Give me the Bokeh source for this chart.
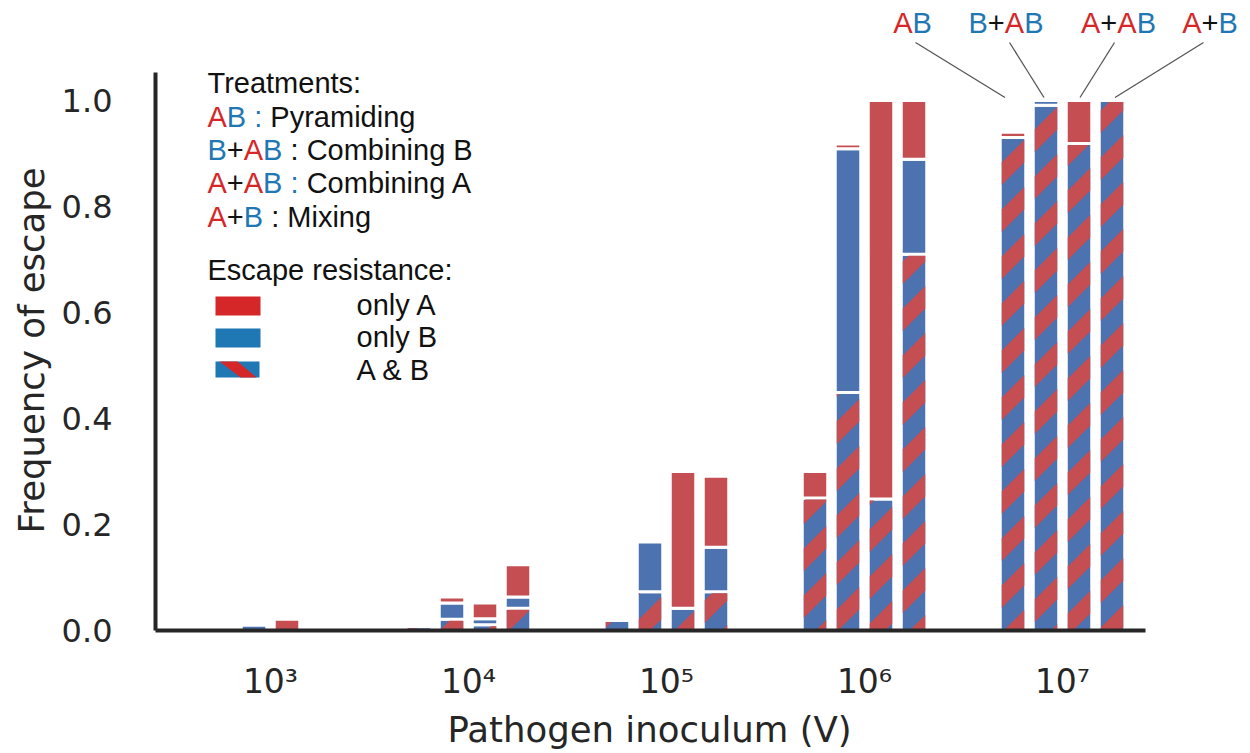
import math
from bokeh.plotting import figure
from bokeh.models import ColumnDataSource, FixedTicker, PrintfTickFormatter, Range1d, Label, Title
from bokeh.embed import file_html
from bokeh.resources import INLINE

# ---------------- data ----------------
inoculum_log10 = [3, 4, 5, 6, 7]
inoculum_labels = ["10³", "10⁴", "10⁵", "10⁶", "10⁷"]
treatments = ["AB", "B+AB", "A+AB", "A+B"]
treatment_desc = ["Pyramiding", "Combining B", "Combining A", "Mixing"]

# frequency of escape per inoculum (10^3 ... 10^7), split by escape type
pyr_AB = [0.0, 0.007, 0.019, 0.250, 0.930]
pyr_onlyB = [0.0, 0.0, 0.0, 0.0, 0.0]
pyr_onlyA = [0.0, 0.0, 0.0, 0.050, 0.010]

combB_AB = [0.0, 0.021, 0.073, 0.449, 0.991]
combB_onlyB = [0.010, 0.031, 0.094, 0.460, 0.009]
combB_onlyA = [0.0, 0.011, 0.0, 0.009, 0.0]

combA_AB = [0.0, 0.011, 0.042, 0.248, 0.919]
combA_onlyB = [0.0, 0.011, 0.0, 0.0, 0.0]
combA_onlyA = [0.021, 0.030, 0.258, 0.752, 0.081]

mix_AB = [0.0, 0.042, 0.073, 0.710, 1.0]
mix_onlyB = [0.0, 0.021, 0.084, 0.179, 0.0]
mix_onlyA = [0.0, 0.061, 0.134, 0.111, 0.0]

y_ticks = [0.0, 0.2, 0.4, 0.6, 0.8, 1.0]

# ---------------- style / layout ----------------
RED_BAR, BLUE_BAR = "#C44E52", "#4C72B0"
RED, BLUE, BLACK = "#d62728", "#1f77b4", "#111111"
AXIS_COL = "#262626"

W, H = 1250, 753
FRAME_L, FRAME_B = 155, 630          # frame spans to the right / top canvas edges
PX_PER_DEC = 198.0                   # horizontal pixels per decade
X_REF_PX, X_REF = 864.0, 6.0         # pixel of decade 6
PX_PER_UNIT = 530.0                  # vertical pixels per unit frequency
X_START = X_REF + (FRAME_L - X_REF_PX) / PX_PER_DEC
X_END = X_REF + (W - X_REF_PX) / PX_PER_DEC
X_AXIS_END = X_REF + (1145 - X_REF_PX) / PX_PER_DEC
Y_START, Y_END = 0.0, FRAME_B / PX_PER_UNIT
Y_AXIS_END = 1.053
LABEL_DY = 11                        # text baseline correction (px)

# stripe pattern (pixels): vertical period, red band height, phase
STRIPE_P, STRIPE_R, STRIPE_PHASE = 47.0, 22.5, 8.3
EDGE_W = 3


def xd(px):
    return X_REF + (px - X_REF_PX) / PX_PER_DEC


def yd(py):
    return (FRAME_B - py) / PX_PER_UNIT


def xpx(x):
    return X_REF_PX + (x - X_REF) * PX_PER_DEC


p = figure(width=W, height=H, output_backend="svg", toolbar_location=None,
           x_range=Range1d(X_START, X_END), y_range=Range1d(Y_START, Y_END),
           min_border_left=FRAME_L, min_border_right=0,
           min_border_top=0, min_border_bottom=H - FRAME_B)
p.outline_line_color = None
p.grid.visible = False
p.background_fill_color = "white"
p.border_fill_color = "white"

# ---------------- bars ----------------
BAR_STEP = 33.0 / PX_PER_DEC
BAR_W = 25.5 / PX_PER_DEC
offsets = [-1.5, -0.5, 0.5, 1.5]
groups = [(pyr_AB, pyr_onlyB, pyr_onlyA),
          (combB_AB, combB_onlyB, combB_onlyA),
          (combA_AB, combA_onlyB, combA_onlyA),
          (mix_AB, mix_onlyB, mix_onlyA)]

src = {k: dict(x=[], bottom=[], top=[]) for k in ("AB", "B", "A")}
for i, (ab, b, a) in enumerate(groups):
    for j, e in enumerate(inoculum_log10):
        x = e + offsets[i] * BAR_STEP
        base = 0.0
        for key, vals in (("AB", ab), ("B", b), ("A", a)):
            h = vals[j]
            if h > 0:
                src[key]["x"].append(x)
                src[key]["bottom"].append(base)
                src[key]["top"].append(base + h)
            base += h

p.vbar(x="x", bottom="bottom", top="top", width=BAR_W, source=ColumnDataSource(src["AB"]),
       fill_color=BLUE_BAR, line_color="white", line_width=EDGE_W)
p.vbar(x="x", bottom="bottom", top="top", width=BAR_W, source=ColumnDataSource(src["B"]),
       fill_color=BLUE_BAR, line_color="white", line_width=EDGE_W)
p.vbar(x="x", bottom="bottom", top="top", width=BAR_W, source=ColumnDataSource(src["A"]),
       fill_color=RED_BAR, line_color="white", line_width=EDGE_W)


# red diagonal stripes inside the "A & B" segments
def clip_half(poly, a, b, c0):
    out = []
    n = len(poly)
    for k in range(n):
        P, Q = poly[k], poly[(k + 1) % n]
        fp = a * P[0] + b * P[1] + c0
        fq = a * Q[0] + b * Q[1] + c0
        if fp >= 0:
            out.append(P)
        if fp * fq < 0:
            t = fp / (fp - fq)
            out.append((P[0] + t * (Q[0] - P[0]), P[1] + t * (Q[1] - P[1])))
    return out


stripe_xs, stripe_ys = [], []
ins = EDGE_W / 2.0
for x, b0, t0 in zip(src["AB"]["x"], src["AB"]["bottom"], src["AB"]["top"]):
    u0 = xpx(x - BAR_W / 2) + ins
    u1 = xpx(x + BAR_W / 2) - ins
    v0 = b0 * PX_PER_UNIT + ins
    v1 = t0 * PX_PER_UNIT - ins
    if v1 <= v0:
        continue
    rect = [(u0, v0), (u1, v0), (u1, v1), (u0, v1)]
    cmin, cmax = v0 - u1, v1 - u0
    k0 = math.floor((cmin - STRIPE_PHASE) / STRIPE_P) - 1
    k1 = math.ceil((cmax - STRIPE_PHASE) / STRIPE_P) + 1
    for k in range(k0, k1 + 1):
        c1 = STRIPE_PHASE + k * STRIPE_P
        c2 = c1 + STRIPE_R
        poly = clip_half(rect, -1.0, 1.0, -c1)
        if len(poly) < 3:
            continue
        poly = clip_half(poly, 1.0, -1.0, c2)
        if len(poly) < 3:
            continue
        stripe_xs.append([xd(u) for u, v in poly])
        stripe_ys.append([v / PX_PER_UNIT for u, v in poly])

p.patches(xs=stripe_xs, ys=stripe_ys, fill_color=RED_BAR, line_color=None)

# ---------------- axes ----------------
p.xaxis.ticker = FixedTicker(ticks=inoculum_log10)
p.xaxis.major_label_overrides = {e: lab for e, lab in zip(inoculum_log10, inoculum_labels)}
p.yaxis.ticker = FixedTicker(ticks=y_ticks)
p.yaxis.formatter = PrintfTickFormatter(format="%.1f")
p.xaxis.bounds = (X_START, X_AXIS_END)
p.yaxis.bounds = (Y_START, Y_AXIS_END)
for ax in (p.xaxis, p.yaxis):
    ax.axis_line_width = 4
    ax.axis_line_color = AXIS_COL
    ax.major_tick_line_color = None
    ax.minor_tick_line_color = None
    ax.major_label_text_font = "DejaVu Sans"
    ax.major_label_text_color = AXIS_COL
p.xaxis.major_label_text_font_size = "33px"
p.yaxis.major_label_text_font_size = "32px"
p.xaxis.major_label_standoff = 25
p.yaxis.major_label_standoff = 37

# axis titles placed as side titles (positioned along the axis by offset)
p.add_layout(Title(text="Pathogen inoculum (V)", align="left", offset=447 - FRAME_L,
                   vertical_align="bottom", standoff=6,
                   text_font="DejaVu Sans", text_font_size="35.5px", text_font_style="normal",
                   text_color=AXIS_COL), "below")
p.add_layout(Title(text="Frequency of escape", align="left", offset=FRAME_B - 533,
                   vertical_align="top", standoff=10,
                   text_font="DejaVu Sans", text_font_size="35.5px", text_font_style="normal",
                   text_color=AXIS_COL), "left")

# ---------------- coloured text helpers ----------------
EM = {"A": 0.667, "B": 0.667, "+": 0.584, " ": 0.278, ":": 0.278, "&": 0.667}
FS = 29
CHAR_COL = {"A": RED, "B": BLUE, "+": BLACK}


def name_parts(name):
    return [(c, CHAR_COL[c]) for c in name]


def add_parts(x_px, y_px, parts, center=False):
    off = 0.0
    if center:
        off = -sum(EM[c] for s, _ in parts for c in s) * FS / 2
    for s, col in parts:
        lead = len(s) - len(s.lstrip(" "))
        off += lead * EM[" "] * FS
        txt = s.lstrip(" ")
        if txt:
            p.add_layout(Label(x=xd(x_px), y=yd(y_px - LABEL_DY), x_offset=off, text=txt,
                               text_font="Liberation Sans", text_font_size=f"{FS}px",
                               text_color=col, text_baseline="alphabetic", text_align="left"))
        off += sum(EM.get(c, 0.55) for c in txt) * FS


# ---------------- legend ----------------
LEG_X = 207
add_parts(LEG_X, 93, [("Treatments:", BLACK)])
sep_colors = [BLUE, BLACK, BLUE, BLACK]
line_y = [127, 160, 193, 227]
for name, desc, sc, ly in zip(treatments, treatment_desc, sep_colors, line_y):
    if sc == BLACK:
        parts = name_parts(name) + [(" : " + desc, BLACK)]
    else:
        parts = name_parts(name) + [(" :", sc), (" " + desc, BLACK)]
    add_parts(LEG_X, ly, parts)

add_parts(LEG_X, 280, [("Escape resistance:", BLACK)])
add_parts(356, 315, [("only A", BLACK)])
add_parts(356, 347, [("only B", BLACK)])
add_parts(356, 380, [("A & B", BLACK)])

p.quad(left=[xd(215)], right=[xd(260)], top=[yd(296)], bottom=[yd(315)], fill_color=RED, line_color=None)
p.quad(left=[xd(215)], right=[xd(260)], top=[yd(328)], bottom=[yd(347)], fill_color=BLUE, line_color=None)
p.quad(left=[xd(215)], right=[xd(259)], top=[yd(361)], bottom=[yd(377)], fill_color=BLUE, line_color=None)
p.patch(x=[xd(219), xd(237), xd(256), xd(240)], y=[yd(361), yd(361), yd(377), yd(377)],
        fill_color=RED, line_color=None)

# ---------------- top treatment labels with leader lines ----------------
top_label_x = [912, 1005.5, 1118, 1209.5]
for name, cx in zip(treatments, top_label_x):
    add_parts(cx, 33, name_parts(name), center=True)

leader_start_x = [915, 1009, 1114, 1203]
leader_end_dx = [-8, -2, 1, 3]
lx0, ly0, lx1, ly1 = [], [], [], []
for k, (sx, dx) in enumerate(zip(leader_start_x, leader_end_dx)):
    bar_x = inoculum_log10[-1] + offsets[k] * BAR_STEP
    lx0.append(xd(sx)); ly0.append(yd(42))
    lx1.append(bar_x + dx / PX_PER_DEC); ly1.append(yd(97))
p.segment(x0=lx0, y0=ly0, x1=lx1, y1=ly1, line_color="#555555", line_width=1.3)

open("out.html", "w").write(file_html(p, INLINE))
